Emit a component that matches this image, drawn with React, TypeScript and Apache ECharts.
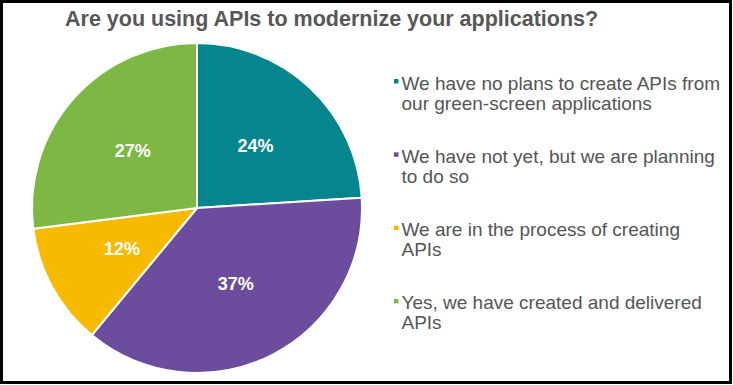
import React, { useEffect, useRef } from "react";
import * as echarts from "echarts";

const titleText = "Are you using APIs to modernize your applications?";
const categories = [
  "We have no plans to create APIs from\nour green-screen applications",
  "We have not yet, but we are planning\nto do so",
  "We are in the process of creating\nAPIs",
  "Yes, we have created and delivered\nAPIs",
];
const values = [24, 37, 12, 27];
const colors = ["#05868F", "#6C4C9C", "#F8BA00", "#7CB843"];

export default function App() {
  const ref = useRef<HTMLDivElement>(null);
  useEffect(() => {
    if (!ref.current) return;
    const chart = echarts.init(ref.current, undefined, { renderer: "svg" });
    const legendX = 394;
    const legendY = 73;
    const legendPitch = 73.3;
    const legendItems = categories.map((c, i) => ({
      type: "group",
      x: legendX,
      y: legendY + i * legendPitch,
      children: [
        {
          type: "rect",
          shape: { x: 0, y: 6, width: 4.5, height: 4.5 },
          style: { fill: colors[i] },
        },
        {
          type: "text",
          x: 7.5,
          y: 0,
          style: {
            text: c,
            fontFamily: "Liberation Sans",
            fontSize: 19,
            lineHeight: 20,
            fill: "#555555",
            verticalAlign: "top",
            align: "left",
          },
        },
      ],
    }));
    chart.setOption({
      animation: false,
      backgroundColor: "#ffffff",
      color: colors,
      title: {
        text: titleText,
        left: 60,
        top: 3,
        textStyle: {
          fontFamily: "Liberation Sans",
          fontWeight: "bold",
          fontSize: 21.5,
          color: "#575757",
        },
      },
      graphic: [
        ...legendItems,
        {
          type: "rect",
          shape: { x: 1.5, y: 1.5, width: 729, height: 381 },
          style: { fill: "none", stroke: "#000000", lineWidth: 3 },
          z: 100,
        },
      ],
      series: [
        {
          type: "pie",
          center: [197, 208],
          radius: 165,
          startAngle: 90,
          clockwise: true,
          data: categories.map((c, i) => ({ name: c, value: values[i] })),
          itemStyle: { borderColor: "#ffffff", borderWidth: 2 },
          label: {
            show: true,
            position: "inside",
            formatter: "{c}%",
            color: "#ffffff",
            fontFamily: "Liberation Sans",
            fontWeight: "bold",
            fontSize: 18,
          },
          labelLine: { show: false },
          emphasis: { disabled: true },
        },
      ],
    });
    return () => chart.dispose();
  }, []);
  return (
    <div
      ref={ref}
      style={{ position: "absolute", left: 0, top: 0, width: 733, height: 385 }}
    />
  );
}
